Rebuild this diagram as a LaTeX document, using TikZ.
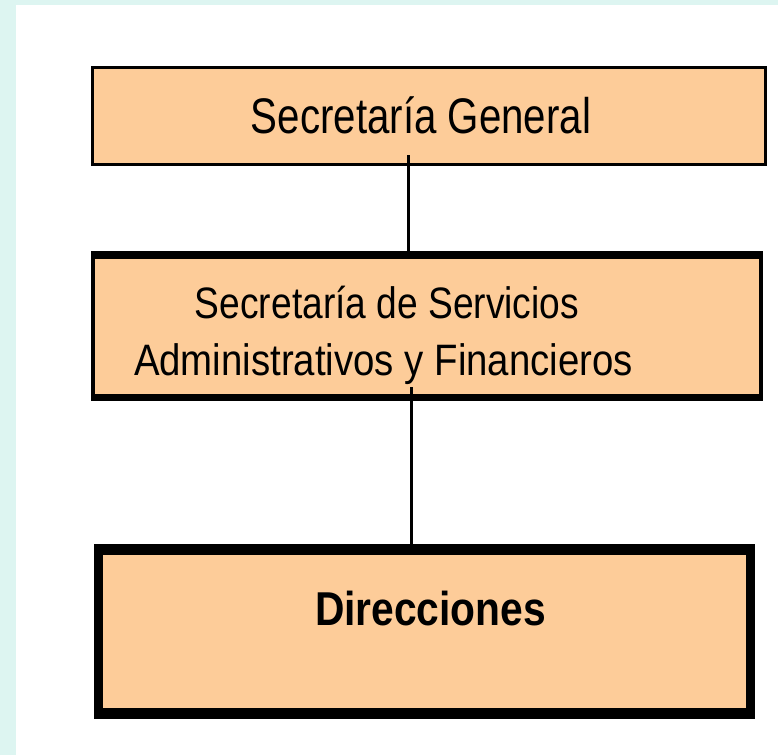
\documentclass[tikz,border=0pt]{standalone}
\usepackage{fontspec}
\setmainfont{Liberation Sans}
\usepackage{graphicx}
\definecolor{bgcyan}{RGB}{221,245,241}
\definecolor{boxfill}{RGB}{253,204,153}
\newcommand{\fitw}[2]{\resizebox{#1}{\height}{#2}}
\begin{document}
\begin{tikzpicture}[x=1pt,y=-1pt,
  frame/.style={rectangle, fill=black, draw=none, inner sep=0pt, outer sep=0pt},
  face/.style={rectangle, fill=boxfill, draw=none, inner sep=0pt, outer sep=0pt},
  lbl/.style={anchor=base, inner sep=0pt, outer sep=0pt},
  conn/.style={line width=3.3pt, black}]
\useasboundingbox (0,0) rectangle (778,755);
\fill[white] (0,0) rectangle (778,755);
\fill[bgcyan] (0,0) rectangle (778,5);
\fill[bgcyan] (0,0) rectangle (16,755);

% Box 1
\node[frame, minimum width=676pt, minimum height=100pt] (b1) at (429,116) {};
\node[face, minimum width=670pt, minimum height=94pt] (f1) at (429,116) {};
\node[lbl] (t1) at (421,133) {\fitw{340pt}{\fontsize{50}{60}\selectfont Secretaría General}};

% Box 2
\node[frame, minimum width=672pt, minimum height=150pt] (b2) at (427,326) {};
\node[face, minimum width=664pt, minimum height=135pt] (f2) at (427,326.5) {};
\node[lbl] (t2a) at (387,318) {\fitw{384pt}{\fontsize{44}{52}\selectfont Secretaría de Servicios}};
\node[lbl] (t2b) at (383.5,375) {\fitw{499pt}{\fontsize{44}{52}\selectfont Administrativos y Financieros}};

% Box 3
\node[frame, minimum width=661pt, minimum height=175pt] (b3) at (424.5,631.5) {};
\node[face, minimum width=643pt, minimum height=153pt] (f3) at (424.5,631.5) {};
\node[lbl] (t3) at (430.5,625) {\fitw{231pt}{\fontsize{47.5}{56}\selectfont\bfseries Direcciones}};

% Connectors
\coordinate (c1) at ([xshift=-20.5pt,yshift=11pt]b1.south);
\draw[conn] (c1) -- (c1 |- b2.north);
\coordinate (c2) at ([xshift=-15.3pt,yshift=14pt]b2.south);
\draw[conn] (c2) -- (c2 |- b3.north);
\end{tikzpicture}
\end{document}
